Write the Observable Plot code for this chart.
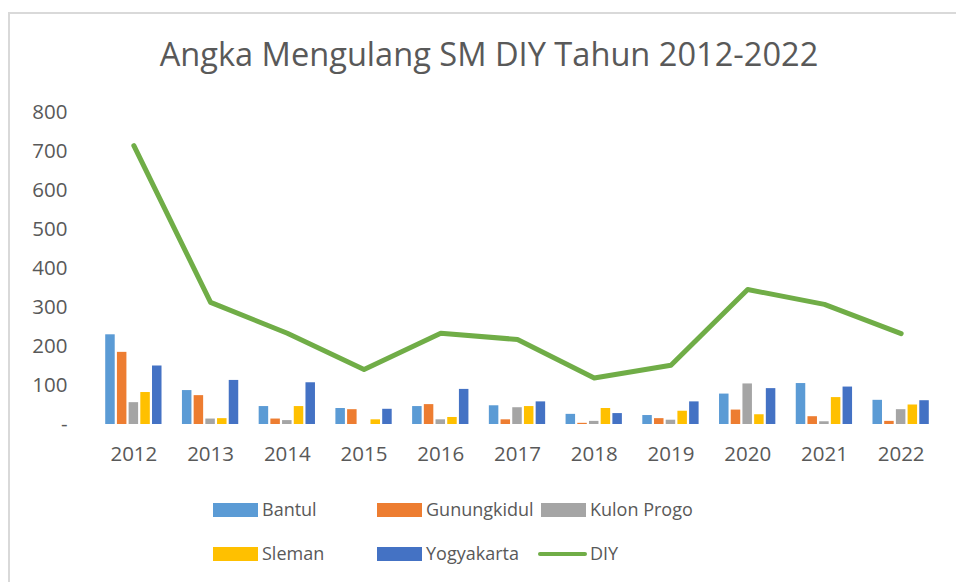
<!DOCTYPE html>
<html>
<head>
<meta charset="utf-8">
<script src="https://cdn.jsdelivr.net/npm/d3@7"></script>
<script src="https://cdn.jsdelivr.net/npm/@observablehq/plot@0.6"></script>
<style>
  html, body { margin: 0; padding: 0; background: #fff; }
  #wrap { position: relative; width: 956px; height: 582px; overflow: hidden; font-family: "Open Sans", sans-serif; color: #595959; }
  #frame { position: absolute; left: 8px; top: 12px; width: 1000px; height: 1000px; border-left: 2px solid #d9d9d9; border-top: 2px solid #d9d9d9; }
  #title { position: absolute; left: 0; top: 32px; width: 978px; text-align: center; font-size: 32.6px; line-height: 44px; color: #595959; }
  #chart { position: absolute; left: 0; top: 0; }
  .lg { position: absolute; font-size: 18px; line-height: 24px; color: #595959; white-space: nowrap; }
  .sw { position: absolute; }
</style>
</head>
<body>
<div id="wrap">
  <div id="frame"></div>
  <div id="chart"></div>
  <div id="title"></div>
  <div id="legend"></div>
</div>
<script>
const titleText = "Angka Mengulang SM DIY Tahun 2012-2022";
const years = ["2012","2013","2014","2015","2016","2017","2018","2019","2020","2021","2022"];
const seriesNames = ["Bantul", "Gunungkidul", "Kulon Progo", "Sleman", "Yogyakarta", "DIY"];
const seriesColors = ["#5B9BD5", "#ED7D31", "#A5A5A5", "#FFC000", "#4472C4", "#70AD47"];
const bantul      = [230, 87, 46, 41, 46, 48, 26, 23, 78, 105, 62];
const gunungkidul = [185, 74, 14, 38, 51, 12, 3, 15, 37, 20, 8];
const kulonProgo  = [56, 14, 10, 0, 12, 43, 8, 11, 104, 7, 38];
const sleman      = [82, 15, 46, 12, 18, 46, 41, 34, 25, 69, 50];
const yogyakarta  = [150, 113, 107, 39, 90, 58, 28, 58, 92, 96, 61];
const diy         = [715, 313, 234, 141, 234, 218, 119, 152, 346, 308, 233];
const yTicks = [0, 100, 200, 300, 400, 500, 600, 700, 800];

const barSeries = [bantul, gunungkidul, kulonProgo, sleman, yogyakarta];

document.getElementById("title").textContent = titleText;

const W = 956, H = 480, mL = 95, mR = 17, mT = 112, mB = 56;
const bw = (W - mL - mR) / years.length;
const barW = 9.5, pitch = 11.7;

const barMarks = barSeries.map((vals, i) => {
  const off = (i - 2) * pitch;
  const base = bw / 2 - barW / 2;
  return Plot.barY(years.map((y, j) => ({year: y, value: vals[j]})), {
    x: "year", y: "value", fill: seriesColors[i],
    insetLeft: base + off, insetRight: base - off
  });
});

const lineData = years.map((y, j) => ({year: y, value: diy[j]}));

const chart = Plot.plot({
  width: W, height: H,
  marginLeft: mL, marginRight: mR, marginTop: mT, marginBottom: mB,
  style: {fontFamily: "'Open Sans', sans-serif", fontSize: "20.5px", color: "#595959", background: "transparent", overflow: "visible"},
  x: {type: "band", domain: years, padding: 0, round: false, label: null, tickSize: 0, tickPadding: 22},
  y: {domain: [0, 800], ticks: yTicks, tickFormat: d => d === 0 ? "-" : d3.format("d")(d), label: null, tickSize: 0, tickPadding: 28},
  marks: [
    Plot.ruleY(yTicks, {stroke: "#d9d9d9", strokeWidth: 1.4, x1: years[0], x2: years[years.length-1], insetLeft: -bw/2, insetRight: -bw/2}),
    ...barMarks,
    Plot.line(lineData, {x: "year", y: "value", stroke: seriesColors[5], strokeWidth: 5, strokeLinecap: "round", strokeLinejoin: "round"})
  ]
});
document.getElementById("chart").appendChild(chart);

// legend
const legendItems = [
  {name: seriesNames[0], color: seriesColors[0], x: 213, y: 510, kind: "rect"},
  {name: seriesNames[1], color: seriesColors[1], x: 377, y: 510, kind: "rect"},
  {name: seriesNames[2], color: seriesColors[2], x: 541, y: 510, kind: "rect"},
  {name: seriesNames[3], color: seriesColors[3], x: 213, y: 554, kind: "rect"},
  {name: seriesNames[4], color: seriesColors[4], x: 377, y: 554, kind: "rect"},
  {name: seriesNames[5], color: seriesColors[5], x: 538, y: 554, kind: "line"}
];
const lg = document.getElementById("legend");
for (const it of legendItems) {
  const sw = document.createElement("div");
  sw.className = "sw";
  if (it.kind === "rect") {
    Object.assign(sw.style, {left: it.x + "px", top: (it.y - 7) + "px", width: "45px", height: "14px", background: it.color});
  } else {
    Object.assign(sw.style, {left: it.x + "px", top: (it.y - 2) + "px", width: "49px", height: "4px", background: it.color, borderRadius: "2px"});
  }
  lg.appendChild(sw);
  const t = document.createElement("div");
  t.className = "lg";
  t.textContent = it.name;
  Object.assign(t.style, {left: (it.kind === "rect" ? it.x + 49 : it.x + 52) + "px", top: (it.y - 13) + "px"});
  lg.appendChild(t);
}
</script>
</body>
</html>
